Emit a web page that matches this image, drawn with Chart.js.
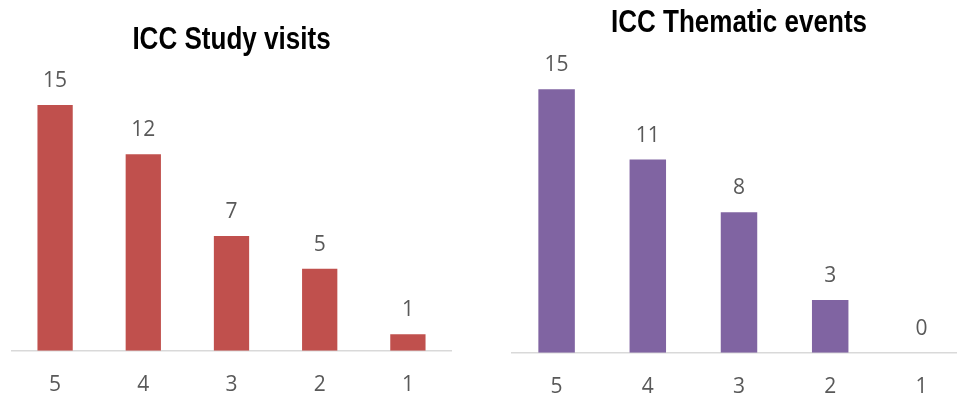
<!DOCTYPE html>
<html>
<head>
<meta charset="utf-8">
<script src="https://cdn.jsdelivr.net/npm/chart.js@4"></script>
<style>
  html, body { margin: 0; padding: 0; background: #fff; overflow: hidden; width: 957px; height: 396px; }
  .box { position: absolute; top: 0; height: 396px; }
  #visitsBox { left: 11px; width: 441px; }
  #eventsBox { left: 511px; width: 456px; }
</style>
</head>
<body>
<div class="box" id="visitsBox"><canvas id="visits"></canvas></div>
<div class="box" id="eventsBox"><canvas id="events"></canvas></div>
<script>
// Rating categories (shown left to right) and counts per category
const categories = ['5', '4', '3', '2', '1'];
const studyVisits = [15, 12, 7, 5, 1];
const thematicEvents = [15, 11, 8, 3, 0];
const chartTitles = ['ICC Study visits', 'ICC Thematic events'];

const LABEL_COLOR = '#595959';
const LABEL_FONT = { family: '"Open Sans", "Noto Sans", sans-serif', size: 21 };

// Writes each bar's value just above it
const valueLabels = {
  id: 'valueLabels',
  afterDatasetsDraw(chart) {
    const { ctx } = chart;
    const ds = chart.data.datasets[0];
    const meta = chart.getDatasetMeta(0);
    ctx.save();
    ctx.font = `${LABEL_FONT.size}px ${LABEL_FONT.family}`;
    ctx.fillStyle = LABEL_COLOR;
    ctx.textAlign = 'center';
    ctx.textBaseline = 'middle';
    meta.data.forEach((bar, i) => {
      ctx.fillText(String(ds.data[i]), bar.x, bar.y - 24);
    });
    ctx.restore();
  }
};

// Bold condensed heading centred over the plot area
const narrowTitle = {
  id: 'narrowTitle',
  afterDraw(chart, args, opts) {
    const { ctx, chartArea } = chart;
    const cx = (chartArea.left + chartArea.right) / 2;
    ctx.save();
    ctx.font = 'bold 31px "Liberation Sans", Arial, sans-serif';
    ctx.fillStyle = '#000';
    ctx.textAlign = 'center';
    ctx.textBaseline = 'alphabetic';
    ctx.translate(cx, opts.baseline);
    ctx.scale(0.84, 1);
    ctx.fillText(opts.text, 0, 0);
    ctx.restore();
  }
};

function makeChart(id, title, values, color, topPad, titleBaseline, axisHeight) {
  return new Chart(document.getElementById(id), {
    type: 'bar',
    data: {
      labels: categories,
      datasets: [{
        data: values,
        backgroundColor: color,
        categoryPercentage: 1,
        barPercentage: 0.4
      }]
    },
    options: {
      responsive: true,
      maintainAspectRatio: false,
      animation: false,
      layout: { padding: { top: topPad, left: 0, right: 0, bottom: 0 } },
      plugins: {
        legend: { display: false },
        tooltip: { enabled: false },
        title: { display: false },
        narrowTitle: { text: title, baseline: titleBaseline }
      },
      scales: {
        x: {
          grid: { display: false, drawTicks: false },
          border: { display: true, color: '#d9d9d9', width: 1.5 },
          ticks: { color: LABEL_COLOR, font: LABEL_FONT, padding: 22 },
          afterFit(scale) { scale.height = axisHeight; }
        },
        y: {
          display: false,
          min: 0,
          max: 18
        }
      }
    },
    plugins: [valueLabels, narrowTitle]
  });
}

makeChart('visits', chartTitles[0], studyVisits, '#C0504D', 56, 49.3, 45.3);
makeChart('events', chartTitles[1], thematicEvents, '#8064A2', 36.6, 32.3, 43.3);
</script>
</body>
</html>
